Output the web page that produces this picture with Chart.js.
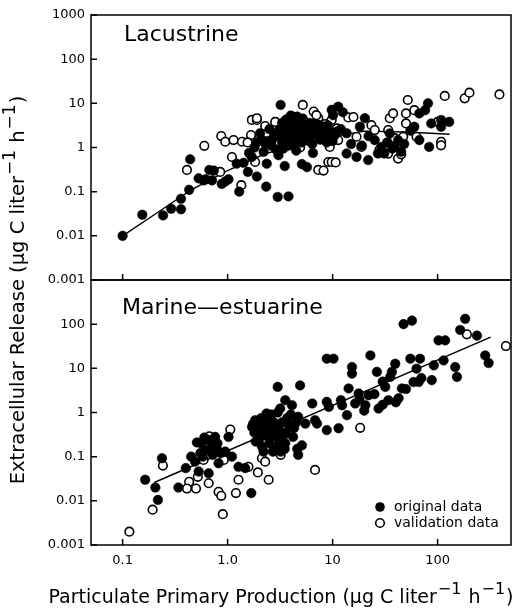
<!DOCTYPE html>
<html>
<head>
<meta charset="utf-8">
<script src="https://cdn.jsdelivr.net/npm/chart.js@4"></script>
<style>
  body { margin: 0; background: #fff; }
  #wrap { width: 530px; height: 611px; position: relative; }
</style>
</head>
<body>
<div id="wrap"><canvas id="myChart"></canvas></div>
<script>
// tick values and labels
const xTickValues = [0.1, 1, 10, 100]
const xTickLabels = ['0.1', '1.0', '10', '100']
const yTickValues = [0.001, 0.01, 0.1, 1, 10, 100, 1000]
const yTickLabels = ['0.001', '0.01', '0.1', '1', '10', '100', '1000']

// Lacustrine panel
const lacFilledX = [0.10,0.154,0.243,0.29,0.36,0.36,0.43,0.44,0.59,0.67,0.71,0.88,1.02,1.22,1.29,1.42,1.56,1.90,2.33,3.0,3.8,3.2,1.70,2.36,3.5,5.1,5.7,3.05,2.04,2.28,0.74,0.95,0.62,0.53,
  3.1,3.3,3.5,3.6,3.8,3.9,4.0,4.1,4.2,4.3,4.4,4.6,4.7,4.8,5.0,5.1,5.2,5.4,5.6,5.8,6.0,6.2,6.4,6.7,7.0,7.3,7.6,8.0,8.4,8.8,4.5,3.4,2.7,2.5,2.9,6.5,9.5,10.5,12.0,2.2,1.8,1.6,
  9.8,11.3,10.1,13.6,13.6,16.9,21.8,20.3,18.2,25.2,29.2,27,39,45,42,60,67,81,76,87,83,67,108,129,108,35,31,22,33,37,15,19,55,48,12.5,
  3.2,3.4,3.6,3.7,3.9,4.0,4.2,4.3,4.5,4.6,4.8,4.9,5.1,5.3,5.5,5.7,5.9,6.1,6.3,6.6,6.9,7.2,7.5,7.9,8.3,3.3,3.8,4.4,2.4,2.6,2.1,1.9,2.8,9.0,9.3,10,11,4.0,4.6]
const lacFilledY = [0.010,0.030,0.029,0.041,0.040,0.069,0.11,0.54,0.18,0.31,0.18,0.15,0.19,0.43,0.10,0.45,0.28,0.22,0.13,0.076,0.078,9.2,0.61,0.43,0.38,0.42,0.36,0.67,2.1,1.23,0.30,0.17,0.19,0.20,
  2.5,3.6,1.8,4.3,2.9,1.4,3.4,2.2,4.8,1.1,2.7,3.9,1.7,2.4,3.1,1.3,4.5,2.0,2.9,1.6,3.6,2.3,1.2,2.8,1.9,3.3,1.5,2.5,1.8,1.3,0.85,0.95,1.6,2.6,0.9,0.75,2.2,1.9,2.6,0.8,1.0,0.75,
  7.1,8.4,5.4,2.1,0.73,0.61,0.52,4.6,2.95,1.47,1.03,0.73,1.03,0.80,1.47,2.95,5.9,10.0,7.0,3.5,1.03,1.47,2.95,3.8,4.2,2.08,0.73,1.8,1.3,0.95,1.2,1.1,2.4,1.2,6.3,
  1.9,2.3,2.6,3.2,1.7,2.0,2.9,3.7,2.3,1.5,3.3,2.0,2.6,3.8,1.8,2.4,3.1,1.9,2.6,3.5,2.2,2.7,1.8,3.0,2.2,1.3,1.1,1.3,1.4,1.1,1.5,1.3,2.0,3.2,1.6,1.4,2.3,5.3,5.0]
const lacOpenX = [0.41,0.60,0.87,0.95,1.14,1.37,1.10,1.35,0.85,1.70,1.90,1.67,2.28,2.84,1.83,5.2,6.6,7.3,7.3,9.1,9.8,9.4,9.8,14.1,11.3,11.0,16.9,18.8,23.4,33.8,
  35,37.7,43.5,47,42,33.8,52,50,60,50,63,100,108,108,117,181,201,388,39,25.2,3.0,3.6,4.4,5.5,6.3,7.8,8.5,4.9,6.0,2.6,2.0,1.55,8.2,10.7,15.8,1.9,7.0,28,45]
const lacOpenY = [0.31,1.09,1.81,1.35,1.47,1.35,0.61,0.14,0.28,4.2,4.2,1.91,3.05,3.8,0.47,9.2,6.5,4.6,0.31,0.47,0.47,1.03,4.2,4.8,1.47,2.7,1.75,1.03,3.2,2.48,
  4.6,5.9,1.47,1.75,0.56,0.73,11.9,5.9,7.0,3.5,1.75,3.8,1.35,1.12,14.7,13,17.4,15.9,1.63,2.48,1.9,3.0,4.0,2.4,3.0,2.1,3.4,1.0,1.4,1.2,1.6,1.3,0.30,0.46,4.9,4.6,5.4,0.9,0.7]
const lacFitX = [0.1, 0.2, 0.45, 1.0, 2.3, 3.6, 8, 20, 50, 130]
const lacFitY = [0.010, 0.030, 0.11, 0.30, 0.73, 0.95, 1.6, 2.35, 2.25, 2.0]

// Marine-estuarine panel
const marFilledX = [0.164,0.205,0.217,0.237,0.34,0.40,0.51,0.55,0.49,0.64,0.71,0.76,0.79,0.82,0.66,0.53,0.95,1.02,1.27,1.47,
  1.68,1.71,1.83,1.97,2.12,2.28,2.46,2.64,2.84,3.0,3.17,3.54,4.1,3.8,3.54,4.9,4.7,5.1,4.7,5.5,
  6.8,6.4,7.1,8.8,10.2,8.8,9.2,8.8,11.4,12.3,13.7,14.2,15.3,15.3,16.4,17.7,20.5,22.9,22.0,26.4,
  27.4,31.7,34,36.7,35.4,39.5,42.5,45.7,47.4,57,55,59,63,68,66,88,92,102,118,114,147,153,164,183,237,284,306,
  1.9,2.0,2.2,2.4,2.6,2.9,3.1,3.3,3.6,4.0,4.3,2.7,3.2,0.58,0.62,0.72,1.1,18,25,30,40,12,20,50,70,30,
  1.75,1.8,1.85,1.95,2.05,2.1,2.3,2.5,2.55,2.75,2.8,3.0,3.1,3.4,3.5,3.7,3.9,4.2,4.5,4.6,2.2,2.35,3.0,
  0.56,0.6,0.69,0.8,0.86,0.45]
const marFilledY = [0.030,0.020,0.0105,0.092,0.020,0.055,0.21,0.12,0.077,0.24,0.17,0.28,0.15,0.071,0.042,0.046,0.13,0.28,0.059,0.055,
  0.015,0.47,0.67,0.34,0.17,0.47,0.56,0.28,0.14,3.8,1.23,1.9,1.46,0.56,0.20,4.1,0.80,0.18,0.11,0.56,
  0.67,1.6,0.56,16.5,16.5,1.74,1.34,0.40,0.44,1.46,0.87,3.5,10.7,7.6,1.6,2.7,1.46,19.6,2.46,8.3,
  1.23,3.8,1.9,8.3,6.4,12.7,2.1,3.5,100,120,16.5,4.9,9.8,16.5,4.9,5.4,11.7,43,43,15.1,10.7,6.4,74,132,55,19.6,13.2,
  0.55,0.25,0.7,0.35,0.9,0.45,0.25,0.6,0.35,0.9,0.45,0.13,0.13,0.1,0.14,0.11,0.1,2.0,2.6,1.5,1.7,1.9,1.1,3.4,6.0,5.0,
  0.55,0.35,0.22,0.6,0.4,0.75,0.3,0.2,0.45,0.6,0.33,0.18,0.4,0.3,0.15,0.75,0.5,0.28,0.6,0.15,0.13,0.95,1.0,
  0.2,0.27,0.23,0.2,0.12,0.1]
const marOpenX = [0.116,0.193,0.242,0.43,0.41,0.50,0.52,0.66,0.67,0.59,0.82,0.87,0.90,0.92,1.06,1.2,1.27,1.58,1.94,2.12,2.28,2.46,3.2,6.8,18.3,190,447]
const marOpenY = [0.002,0.0063,0.063,0.027,0.019,0.019,0.035,0.025,0.29,0.084,0.016,0.013,0.005,0.084,0.41,0.015,0.030,0.059,0.044,0.092,0.077,0.030,0.11,0.050,0.45,59,32]
const marFitX = [0.2, 320]
const marFitY = [0.026, 51]

const axisUnit = [{t: ' (\u03bcg C liter'}, {t: '\u22121', sup: true}, {t: ' h'}, {t: '\u22121', sup: true}, {t: ')'}]
const xTitle = [{t: 'Particulate Primary Production'}].concat(axisUnit)
const yTitle = [{t: 'Extracellular Release'}].concat(axisUnit)

function pts(xs, ys) {
    return xs.map((x, i) => ({x: x, y: ys[i]}))
}

// filled marks sit on top of the open ones, fitted lines underneath
function filledSet(xs, ys, axis) {
    return {type: 'scatter', data: pts(xs, ys), yAxisID: axis, order: 1,
        pointRadius: 4.8, pointBackgroundColor: '#000', pointBorderColor: '#000', pointBorderWidth: 0.5}
}
function openSet(xs, ys, axis) {
    return {type: 'scatter', data: pts(xs, ys), yAxisID: axis, order: 2,
        pointRadius: 4.3, pointBackgroundColor: '#fff', pointBorderColor: '#000', pointBorderWidth: 1.6}
}
function fitSet(xs, ys, axis) {
    return {type: 'line', data: pts(xs, ys), yAxisID: axis, order: 3,
        borderColor: '#000', borderWidth: 1.4, pointRadius: 0, fill: false, tension: 0}
}

function drawRich(ctx, parts, x, y, size) {
    const big = size + 'px "DejaVu Sans"'
    const small = Math.round(size * 0.85) + 'px "DejaVu Sans"'
    let total = 0
    parts.forEach(p => { ctx.font = p.sup ? small : big; total += ctx.measureText(p.t).width + (p.sup ? 2 : 0) })
    let cx = x - total / 2
    ctx.textAlign = 'left'
    ctx.textBaseline = 'alphabetic'
    parts.forEach(p => {
        ctx.font = p.sup ? small : big
        ctx.fillText(p.t, cx + (p.sup ? 1 : 0), p.sup ? y - size * 0.45 : y)
        cx += ctx.measureText(p.t).width + (p.sup ? 2 : 0)
    })
}

const framePlugin = {
    id: 'frame',
    afterDraw(chart) {
        const {ctx, chartArea, scales} = chart
        const xs = scales.x
        ctx.save()
        ctx.strokeStyle = '#000'
        ctx.fillStyle = '#000'
        ctx.lineWidth = 1.5
        for (const id of ['yLac', 'yMar']) {
            const ys = scales[id]
            ctx.strokeRect(chartArea.left, ys.top, chartArea.right - chartArea.left, ys.bottom - ys.top)
            ctx.beginPath()
            yTickValues.forEach(v => {
                const py = ys.getPixelForValue(v)
                ctx.moveTo(chartArea.left, py)
                ctx.lineTo(chartArea.left + 6, py)
            })
            xTickValues.forEach(v => {
                const px = xs.getPixelForValue(v)
                ctx.moveTo(px, ys.bottom)
                ctx.lineTo(px, ys.bottom - 6)
            })
            ctx.stroke()
        }
        // panel names
        ctx.font = '22px "DejaVu Sans"'
        ctx.textAlign = 'left'
        ctx.textBaseline = 'alphabetic'
        ctx.fillText('Lacustrine', chartArea.left + 33, scales.yLac.top + 26)
        ctx.fillText('Marine\u2014estuarine', chartArea.left + 31, scales.yMar.top + 34)
        // legend
        const lx = chartArea.right - 131
        const ly = scales.yMar.bottom - 38
        ctx.beginPath()
        ctx.arc(lx, ly, 4.8, 0, Math.PI * 2)
        ctx.fill()
        ctx.beginPath()
        ctx.arc(lx, ly + 16, 4.3, 0, Math.PI * 2)
        ctx.lineWidth = 1.6
        ctx.stroke()
        ctx.font = '14px "DejaVu Sans"'
        ctx.textBaseline = 'middle'
        ctx.fillText('original data', lx + 14, ly)
        ctx.fillText('validation data', lx + 14, ly + 16)
        // axis titles
        drawRich(ctx, xTitle, 281, 603, 19)
        ctx.translate(24, 290)
        ctx.rotate(-Math.PI / 2)
        drawRich(ctx, yTitle, 0, 0, 19.5)
        ctx.restore()
    }
}

function render_chart() {
    const tickFont = {family: 'DejaVu Sans', size: 13}
    const yAxis = (hideTop) => ({
        type: 'logarithmic',
        position: 'left',
        stack: 'panels',
        stackWeight: 1,
        min: 0.001,
        max: 1000,
        grid: {display: false, drawTicks: false},
        border: {display: false},
        afterBuildTicks: s => { s.ticks = yTickValues.map(v => ({value: v})) },
        afterFit: s => { s.width = 91 },
        ticks: {
            autoSkip: false,
            color: '#000',
            font: tickFont,
            padding: 6,
            callback: (v, i) => (hideTop && v >= 1000) ? '' : yTickLabels[i],
        },
    })
    const config = {
        data: {
            datasets: [
                fitSet(lacFitX, lacFitY, 'yLac'),
                filledSet(lacFilledX, lacFilledY, 'yLac'),
                openSet(lacOpenX, lacOpenY, 'yLac'),
                fitSet(marFitX, marFitY, 'yMar'),
                filledSet(marFilledX, marFilledY, 'yMar'),
                openSet(marOpenX, marOpenY, 'yMar'),
            ],
        },
        options: {
            responsive: true,
            maintainAspectRatio: false,
            animation: false,
            devicePixelRatio: 1,
            layout: {padding: {top: 15, right: 19, left: 0, bottom: 0}},
            plugins: {legend: {display: false}, tooltip: {enabled: false}},
            scales: {
                x: {
                    type: 'logarithmic',
                    position: 'bottom',
                    min: 0.05,
                    max: 500,
                    grid: {display: false, drawTicks: false},
                    border: {display: false},
                    afterBuildTicks: s => { s.ticks = xTickValues.map(v => ({value: v})) },
                    afterFit: s => { s.height = 66 },
                    ticks: {
                        autoSkip: false,
                        maxRotation: 0,
                        color: '#000',
                        font: tickFont,
                        padding: 8,
                        callback: (v, i) => xTickLabels[i],
                    },
                },
                yMar: yAxis(true),
                yLac: yAxis(false),
            },
        },
        plugins: [framePlugin],
    }
    new Chart(document.getElementById('myChart'), config)
}
document.addEventListener('DOMContentLoaded', render_chart)
</script>
</body>
</html>
